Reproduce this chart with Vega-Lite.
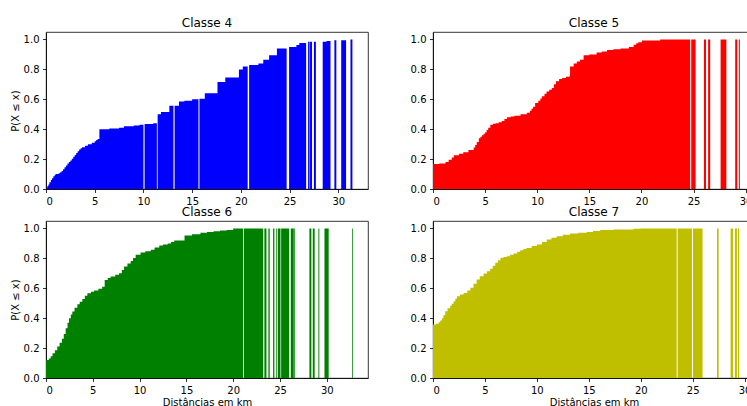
{
"$schema": "https://vega.github.io/schema/vega-lite/v6.json",
"background": "white",
"padding": {"left": 9, "top": 16, "right": 0, "bottom": 2},
"config": {
  "font": "DejaVu Sans",
  "view": {"stroke": "black", "strokeWidth": 0.8},
  "axis": {"grid": false, "domainColor": "black", "tickColor": "black", "labelColor": "black", "titleColor": "black", "labelFont": "DejaVu Sans", "titleFont": "DejaVu Sans", "labelFontSize": 10, "titleFontSize": 10, "titleFontWeight": "normal", "tickSize": 3.5, "labelPadding": 3.5, "domainWidth": 0.8, "tickWidth": 0.8, "titlePadding": 3},
  "axisX": {"titlePadding": 2},
  "title": {"fontSize": 12, "fontWeight": "normal", "font": "DejaVu Sans", "color": "black", "offset": 2}
},
"datasets": {
"d": [
{"classe":4,"seg":1,"km":0.05,"p":0.01},{"classe":4,"seg":1,"km":0.15,"p":0.02},{"classe":4,"seg":1,"km":0.25,"p":0.03},{"classe":4,"seg":1,"km":0.35,"p":0.045},{"classe":4,"seg":1,"km":0.5,"p":0.06},{"classe":4,"seg":1,"km":0.62,"p":0.072},{"classe":4,"seg":1,"km":0.75,"p":0.085},{"classe":4,"seg":1,"km":0.9,"p":0.095},{"classe":4,"seg":1,"km":1.0,"p":0.1},{"classe":4,"seg":1,"km":1.3,"p":0.105},{"classe":4,"seg":1,"km":1.45,"p":0.112},{"classe":4,"seg":1,"km":1.6,"p":0.12},{"classe":4,"seg":1,"km":1.75,"p":0.132},{"classe":4,"seg":1,"km":1.9,"p":0.145},{"classe":4,"seg":1,"km":2.05,"p":0.158},{"classe":4,"seg":1,"km":2.2,"p":0.17},{"classe":4,"seg":1,"km":2.35,"p":0.18},{"classe":4,"seg":1,"km":2.5,"p":0.19},{"classe":4,"seg":1,"km":2.65,"p":0.203},{"classe":4,"seg":1,"km":2.8,"p":0.215},{"classe":4,"seg":1,"km":2.95,"p":0.228},{"classe":4,"seg":1,"km":3.1,"p":0.24},{"classe":4,"seg":1,"km":3.25,"p":0.253},{"classe":4,"seg":1,"km":3.4,"p":0.265},{"classe":4,"seg":1,"km":3.55,"p":0.273},{"classe":4,"seg":1,"km":3.7,"p":0.28},{"classe":4,"seg":1,"km":4.0,"p":0.29},{"classe":4,"seg":1,"km":4.3,"p":0.3},{"classe":4,"seg":1,"km":4.7,"p":0.31},{"classe":4,"seg":1,"km":5.0,"p":0.32},{"classe":4,"seg":1,"km":5.15,"p":0.327},{"classe":4,"seg":1,"km":5.3,"p":0.335},{"classe":4,"seg":1,"km":5.48,"p":0.4},{"classe":4,"seg":1,"km":6.5,"p":0.405},{"classe":4,"seg":1,"km":7.5,"p":0.41},{"classe":4,"seg":1,"km":8.0,"p":0.42},{"classe":4,"seg":1,"km":9.0,"p":0.425},{"classe":4,"seg":1,"km":9.6,"p":0.43},{"classe":4,"seg":1,"km":10.0,"p":0.43},
{"classe":4,"seg":2,"km":10.12,"p":0.435},{"classe":4,"seg":2,"km":11.0,"p":0.44},{"classe":4,"seg":2,"km":11.38,"p":0.44},
{"classe":4,"seg":3,"km":11.46,"p":0.5},{"classe":4,"seg":3,"km":11.8,"p":0.515},{"classe":4,"seg":3,"km":12.66,"p":0.557},{"classe":4,"seg":3,"km":13.08,"p":0.557},
{"classe":4,"seg":4,"km":13.2,"p":0.557},{"classe":4,"seg":4,"km":13.65,"p":0.585},{"classe":4,"seg":4,"km":14.2,"p":0.59},{"classe":4,"seg":4,"km":15.0,"p":0.6},{"classe":4,"seg":4,"km":15.65,"p":0.604},
{"classe":4,"seg":5,"km":15.75,"p":0.604},{"classe":4,"seg":5,"km":16.3,"p":0.64},{"classe":4,"seg":5,"km":17.6,"p":0.715},{"classe":4,"seg":5,"km":18.4,"p":0.746},{"classe":4,"seg":5,"km":19.8,"p":0.8},{"classe":4,"seg":5,"km":20.2,"p":0.82},{"classe":4,"seg":5,"km":20.7,"p":0.82},
{"classe":4,"seg":6,"km":20.85,"p":0.83},{"classe":4,"seg":6,"km":21.8,"p":0.84},{"classe":4,"seg":6,"km":22.3,"p":0.865},{"classe":4,"seg":6,"km":22.9,"p":0.895},{"classe":4,"seg":6,"km":23.7,"p":0.94},{"classe":4,"seg":6,"km":24.7,"p":0.945},
{"classe":4,"seg":7,"km":24.95,"p":0.95},{"classe":4,"seg":7,"km":25.7,"p":0.963},{"classe":4,"seg":7,"km":26.0,"p":0.976},{"classe":4,"seg":7,"km":26.7,"p":0.976},
{"classe":4,"seg":8,"km":26.9,"p":0.985},{"classe":4,"seg":8,"km":27.05,"p":0.985},
{"classe":4,"seg":9,"km":27.1,"p":0.985},{"classe":4,"seg":9,"km":27.3,"p":0.985},
{"classe":4,"seg":10,"km":27.5,"p":0.985},{"classe":4,"seg":10,"km":27.7,"p":0.985},
{"classe":4,"seg":11,"km":28.4,"p":0.985},{"classe":4,"seg":11,"km":28.8,"p":0.99},{"classe":4,"seg":11,"km":29.2,"p":0.99},
{"classe":4,"seg":12,"km":29.6,"p":0.995},{"classe":4,"seg":12,"km":29.8,"p":0.995},
{"classe":4,"seg":13,"km":30.3,"p":0.995},{"classe":4,"seg":13,"km":30.8,"p":0.995},
{"classe":4,"seg":14,"km":31.25,"p":1.0},{"classe":4,"seg":14,"km":31.45,"p":1.0},
{"classe":5,"seg":1,"km":0,"p":0.167},{"classe":5,"seg":1,"km":0.6,"p":0.17},{"classe":5,"seg":1,"km":1.2,"p":0.18},{"classe":5,"seg":1,"km":1.5,"p":0.195},{"classe":5,"seg":1,"km":1.8,"p":0.21},{"classe":5,"seg":1,"km":2.0,"p":0.225},{"classe":5,"seg":1,"km":2.5,"p":0.235},{"classe":5,"seg":1,"km":2.9,"p":0.245},{"classe":5,"seg":1,"km":3.4,"p":0.26},{"classe":5,"seg":1,"km":3.9,"p":0.278},{"classe":5,"seg":1,"km":4.05,"p":0.295},{"classe":5,"seg":1,"km":4.2,"p":0.315},{"classe":5,"seg":1,"km":4.4,"p":0.34},{"classe":5,"seg":1,"km":4.55,"p":0.35},{"classe":5,"seg":1,"km":4.7,"p":0.36},{"classe":5,"seg":1,"km":4.85,"p":0.37},{"classe":5,"seg":1,"km":5.0,"p":0.38},{"classe":5,"seg":1,"km":5.15,"p":0.395},{"classe":5,"seg":1,"km":5.3,"p":0.41},{"classe":5,"seg":1,"km":5.5,"p":0.43},{"classe":5,"seg":1,"km":5.75,"p":0.437},{"classe":5,"seg":1,"km":6.0,"p":0.44},{"classe":5,"seg":1,"km":6.3,"p":0.447},{"classe":5,"seg":1,"km":6.6,"p":0.455},{"classe":5,"seg":1,"km":6.85,"p":0.468},{"classe":5,"seg":1,"km":7.1,"p":0.48},{"classe":5,"seg":1,"km":7.45,"p":0.485},{"classe":5,"seg":1,"km":7.8,"p":0.49},{"classe":5,"seg":1,"km":8.4,"p":0.5},{"classe":5,"seg":1,"km":9.0,"p":0.51},{"classe":5,"seg":1,"km":9.3,"p":0.523},{"classe":5,"seg":1,"km":9.45,"p":0.537},{"classe":5,"seg":1,"km":9.6,"p":0.55},{"classe":5,"seg":1,"km":9.8,"p":0.575},{"classe":5,"seg":1,"km":10.1,"p":0.59},{"classe":5,"seg":1,"km":10.3,"p":0.605},{"classe":5,"seg":1,"km":10.45,"p":0.62},{"classe":5,"seg":1,"km":10.7,"p":0.637},{"classe":5,"seg":1,"km":10.9,"p":0.652},{"classe":5,"seg":1,"km":11.15,"p":0.664},{"classe":5,"seg":1,"km":11.4,"p":0.675},{"classe":5,"seg":1,"km":11.6,"p":0.7},{"classe":5,"seg":1,"km":11.8,"p":0.72},{"classe":5,"seg":1,"km":12.1,"p":0.735},{"classe":5,"seg":1,"km":12.4,"p":0.742},{"classe":5,"seg":1,"km":12.75,"p":0.75},{"classe":5,"seg":1,"km":13.1,"p":0.757},{"classe":5,"seg":1,"km":13.15,"p":0.82},{"classe":5,"seg":1,"km":13.5,"p":0.84},{"classe":5,"seg":1,"km":13.8,"p":0.853},{"classe":5,"seg":1,"km":14.1,"p":0.864},{"classe":5,"seg":1,"km":14.45,"p":0.895},{"classe":5,"seg":1,"km":15.0,"p":0.9},{"classe":5,"seg":1,"km":15.7,"p":0.913},{"classe":5,"seg":1,"km":16.2,"p":0.92},{"classe":5,"seg":1,"km":16.7,"p":0.93},{"classe":5,"seg":1,"km":17.3,"p":0.935},{"classe":5,"seg":1,"km":18.0,"p":0.94},{"classe":5,"seg":1,"km":18.8,"p":0.95},{"classe":5,"seg":1,"km":19.25,"p":0.965},{"classe":5,"seg":1,"km":19.5,"p":0.975},{"classe":5,"seg":1,"km":19.7,"p":0.982},{"classe":5,"seg":1,"km":20.05,"p":0.993},{"classe":5,"seg":1,"km":21.8,"p":1.0},{"classe":5,"seg":1,"km":24.68,"p":1.0},
{"classe":5,"seg":2,"km":24.78,"p":1.0},{"classe":5,"seg":2,"km":25.2,"p":1.0},
{"classe":5,"seg":3,"km":26.0,"p":1.0},{"classe":5,"seg":3,"km":26.2,"p":1.0},
{"classe":5,"seg":4,"km":26.4,"p":1.0},{"classe":5,"seg":4,"km":26.6,"p":1.0},
{"classe":5,"seg":5,"km":27.6,"p":1.0},{"classe":5,"seg":5,"km":28.15,"p":1.0},
{"classe":5,"seg":6,"km":29.0,"p":1.0},{"classe":5,"seg":6,"km":29.2,"p":1.0},
{"classe":5,"seg":7,"km":29.35,"p":1.0},{"classe":5,"seg":7,"km":29.45,"p":1.0},
{"classe":6,"seg":1,"km":0,"p":0.12},{"classe":6,"seg":1,"km":0.3,"p":0.13},{"classe":6,"seg":1,"km":0.5,"p":0.145},{"classe":6,"seg":1,"km":0.7,"p":0.165},{"classe":6,"seg":1,"km":0.95,"p":0.185},{"classe":6,"seg":1,"km":1.2,"p":0.21},{"classe":6,"seg":1,"km":1.45,"p":0.235},{"classe":6,"seg":1,"km":1.7,"p":0.262},{"classe":6,"seg":1,"km":1.9,"p":0.295},{"classe":6,"seg":1,"km":2.1,"p":0.332},{"classe":6,"seg":1,"km":2.3,"p":0.37},{"classe":6,"seg":1,"km":2.46,"p":0.4},{"classe":6,"seg":1,"km":2.65,"p":0.425},{"classe":6,"seg":1,"km":2.81,"p":0.444},{"classe":6,"seg":1,"km":3.05,"p":0.47},{"classe":6,"seg":1,"km":3.35,"p":0.493},{"classe":6,"seg":1,"km":3.6,"p":0.51},{"classe":6,"seg":1,"km":3.88,"p":0.529},{"classe":6,"seg":1,"km":4.15,"p":0.55},{"classe":6,"seg":1,"km":4.42,"p":0.567},{"classe":6,"seg":1,"km":4.8,"p":0.577},{"classe":6,"seg":1,"km":5.13,"p":0.585},{"classe":6,"seg":1,"km":5.6,"p":0.597},{"classe":6,"seg":1,"km":6.0,"p":0.611},{"classe":6,"seg":1,"km":6.27,"p":0.656},{"classe":6,"seg":1,"km":6.6,"p":0.668},{"classe":6,"seg":1,"km":6.9,"p":0.678},{"classe":6,"seg":1,"km":7.4,"p":0.69},{"classe":6,"seg":1,"km":7.8,"p":0.7},{"classe":6,"seg":1,"km":8.1,"p":0.722},{"classe":6,"seg":1,"km":8.34,"p":0.745},{"classe":6,"seg":1,"km":8.7,"p":0.765},{"classe":6,"seg":1,"km":9.05,"p":0.783},{"classe":6,"seg":1,"km":9.3,"p":0.803},{"classe":6,"seg":1,"km":9.58,"p":0.824},{"classe":6,"seg":1,"km":10.1,"p":0.839},{"classe":6,"seg":1,"km":10.6,"p":0.848},{"classe":6,"seg":1,"km":11.2,"p":0.857},{"classe":6,"seg":1,"km":11.6,"p":0.872},{"classe":6,"seg":1,"km":12.1,"p":0.886},{"classe":6,"seg":1,"km":12.5,"p":0.893},{"classe":6,"seg":1,"km":13.0,"p":0.9},{"classe":6,"seg":1,"km":13.35,"p":0.91},{"classe":6,"seg":1,"km":13.7,"p":0.919},{"classe":6,"seg":1,"km":14.8,"p":0.953},{"classe":6,"seg":1,"km":15.6,"p":0.962},{"classe":6,"seg":1,"km":16.5,"p":0.971},{"classe":6,"seg":1,"km":17.2,"p":0.977},{"classe":6,"seg":1,"km":17.9,"p":0.982},{"classe":6,"seg":1,"km":18.6,"p":0.986},{"classe":6,"seg":1,"km":19.3,"p":0.989},{"classe":6,"seg":1,"km":20.0,"p":1.0},{"classe":6,"seg":1,"km":21.05,"p":1.0},
{"classe":6,"seg":2,"km":21.15,"p":1.0},{"classe":6,"seg":2,"km":23.2,"p":1.0},
{"classe":6,"seg":3,"km":23.33,"p":1.0},{"classe":6,"seg":3,"km":23.55,"p":1.0},
{"classe":6,"seg":4,"km":23.76,"p":1.0},{"classe":6,"seg":4,"km":23.9,"p":1.0},
{"classe":6,"seg":5,"km":24.26,"p":1.0},{"classe":6,"seg":5,"km":24.4,"p":1.0},
{"classe":6,"seg":6,"km":24.6,"p":1.0},{"classe":6,"seg":6,"km":24.68,"p":1.0},
{"classe":6,"seg":7,"km":24.76,"p":1.0},{"classe":6,"seg":7,"km":25.05,"p":1.0},
{"classe":6,"seg":8,"km":25.12,"p":1.0},{"classe":6,"seg":8,"km":25.97,"p":1.0},
{"classe":6,"seg":9,"km":26.15,"p":1.0},{"classe":6,"seg":9,"km":26.47,"p":1.0},
{"classe":6,"seg":10,"km":26.52,"p":1.0},{"classe":6,"seg":10,"km":26.6,"p":1.0},
{"classe":6,"seg":11,"km":28.14,"p":1.0},{"classe":6,"seg":11,"km":28.35,"p":1.0},
{"classe":6,"seg":12,"km":28.5,"p":1.0},{"classe":6,"seg":12,"km":28.7,"p":1.0},
{"classe":6,"seg":13,"km":29.1,"p":1.0},{"classe":6,"seg":13,"km":29.2,"p":1.0},
{"classe":6,"seg":14,"km":29.75,"p":1.0},{"classe":6,"seg":14,"km":30.2,"p":1.0},
{"classe":6,"seg":15,"km":32.7,"p":1.0},{"classe":6,"seg":15,"km":32.78,"p":1.0},
{"classe":7,"seg":1,"km":0,"p":0.357},{"classe":7,"seg":1,"km":0.3,"p":0.362},{"classe":7,"seg":1,"km":0.54,"p":0.373},{"classe":7,"seg":1,"km":0.7,"p":0.385},{"classe":7,"seg":1,"km":0.86,"p":0.4},{"classe":7,"seg":1,"km":1.0,"p":0.42},{"classe":7,"seg":1,"km":1.18,"p":0.446},{"classe":7,"seg":1,"km":1.4,"p":0.466},{"classe":7,"seg":1,"km":1.66,"p":0.484},{"classe":7,"seg":1,"km":1.8,"p":0.497},{"classe":7,"seg":1,"km":1.98,"p":0.513},{"classe":7,"seg":1,"km":2.15,"p":0.53},{"classe":7,"seg":1,"km":2.3,"p":0.547},{"classe":7,"seg":1,"km":2.6,"p":0.558},{"classe":7,"seg":1,"km":2.95,"p":0.569},{"classe":7,"seg":1,"km":3.3,"p":0.585},{"classe":7,"seg":1,"km":3.6,"p":0.603},{"classe":7,"seg":1,"km":3.9,"p":0.63},{"classe":7,"seg":1,"km":4.2,"p":0.658},{"classe":7,"seg":1,"km":4.5,"p":0.68},{"classe":7,"seg":1,"km":4.87,"p":0.699},{"classe":7,"seg":1,"km":5.2,"p":0.714},{"classe":7,"seg":1,"km":5.5,"p":0.73},{"classe":7,"seg":1,"km":5.75,"p":0.75},{"classe":7,"seg":1,"km":6.0,"p":0.77},{"classe":7,"seg":1,"km":6.25,"p":0.787},{"classe":7,"seg":1,"km":6.5,"p":0.804},{"classe":7,"seg":1,"km":6.8,"p":0.81},{"classe":7,"seg":1,"km":7.1,"p":0.815},{"classe":7,"seg":1,"km":7.4,"p":0.824},{"classe":7,"seg":1,"km":7.75,"p":0.833},{"classe":7,"seg":1,"km":8.1,"p":0.845},{"classe":7,"seg":1,"km":8.4,"p":0.855},{"classe":7,"seg":1,"km":8.7,"p":0.863},{"classe":7,"seg":1,"km":9.0,"p":0.87},{"classe":7,"seg":1,"km":9.5,"p":0.882},{"classe":7,"seg":1,"km":10.0,"p":0.893},{"classe":7,"seg":1,"km":10.5,"p":0.91},{"classe":7,"seg":1,"km":10.96,"p":0.926},{"classe":7,"seg":1,"km":11.4,"p":0.938},{"classe":7,"seg":1,"km":11.9,"p":0.948},{"classe":7,"seg":1,"km":12.5,"p":0.958},{"classe":7,"seg":1,"km":13.2,"p":0.966},{"classe":7,"seg":1,"km":14.0,"p":0.972},{"classe":7,"seg":1,"km":14.8,"p":0.977},{"classe":7,"seg":1,"km":15.4,"p":0.983},{"classe":7,"seg":1,"km":16.1,"p":0.989},{"classe":7,"seg":1,"km":17.4,"p":0.993},{"classe":7,"seg":1,"km":19.3,"p":0.998},{"classe":7,"seg":1,"km":20.0,"p":1.0},{"classe":7,"seg":1,"km":23.46,"p":1.0},
{"classe":7,"seg":2,"km":23.55,"p":1.0},{"classe":7,"seg":2,"km":24.93,"p":1.0},
{"classe":7,"seg":3,"km":25.03,"p":1.0},{"classe":7,"seg":3,"km":25.95,"p":1.0},
{"classe":7,"seg":4,"km":27.34,"p":1.0},{"classe":7,"seg":4,"km":27.5,"p":1.0},
{"classe":7,"seg":5,"km":28.65,"p":1.0},{"classe":7,"seg":5,"km":28.9,"p":1.0},
{"classe":7,"seg":6,"km":29.07,"p":1.0},{"classe":7,"seg":6,"km":29.26,"p":1.0},
{"classe":7,"seg":7,"km":29.36,"p":1.0},{"classe":7,"seg":7,"km":29.48,"p":1.0}
]
},
"columns": 2,
"spacing": {"row": 32, "column": 65},
"bounds": "flush",
"concat": [
{
  "title": "Classe 4", "width": 322, "height": 157,
  "data": {"name": "d"},
  "transform": [{"filter": "datum.classe == 4"}],
  "mark": {"type": "area", "color": "#0000ff", "interpolate": "step-after"},
  "encoding": {
    "x": {"field": "km", "type": "quantitative", "scale": {"domain": [0, 33.05], "nice": false, "zero": false}, "axis": {"title": null, "values": [0,5,10,15,20,25,30], "format": "d"}},
    "y": {"field": "p", "type": "quantitative", "stack": null, "scale": {"domain": [0, 1.05], "nice": false}, "axis": {"title": "P(X ≤ x)", "values": [0,0.2,0.4,0.6,0.8,1.0], "format": ".1f"}},
    "detail": {"field": "seg", "type": "nominal"}
  }
},
{
  "title": "Classe 5", "width": 322, "height": 157,
  "data": {"name": "d"},
  "transform": [{"filter": "datum.classe == 5"}],
  "mark": {"type": "area", "color": "#ff0000", "interpolate": "step-after"},
  "encoding": {
    "x": {"field": "km", "type": "quantitative", "scale": {"domain": [0, 30.9], "nice": false, "zero": false}, "axis": {"title": null, "values": [0,5,10,15,20,25,30], "format": "d"}},
    "y": {"field": "p", "type": "quantitative", "stack": null, "scale": {"domain": [0, 1.05], "nice": false}, "axis": {"title": null, "values": [0,0.2,0.4,0.6,0.8,1.0], "format": ".1f"}},
    "detail": {"field": "seg", "type": "nominal"}
  }
},
{
  "title": "Classe 6", "width": 322, "height": 157,
  "data": {"name": "d"},
  "transform": [{"filter": "datum.classe == 6"}],
  "mark": {"type": "area", "color": "#008000", "interpolate": "step-after"},
  "encoding": {
    "x": {"field": "km", "type": "quantitative", "scale": {"domain": [0, 34.4], "nice": false, "zero": false}, "axis": {"title": "Distâncias em km", "values": [0,5,10,15,20,25,30], "format": "d"}},
    "y": {"field": "p", "type": "quantitative", "stack": null, "scale": {"domain": [0, 1.05], "nice": false}, "axis": {"title": "P(X ≤ x)", "values": [0,0.2,0.4,0.6,0.8,1.0], "format": ".1f"}},
    "detail": {"field": "seg", "type": "nominal"}
  }
},
{
  "title": "Classe 7", "width": 322, "height": 157,
  "data": {"name": "d"},
  "transform": [{"filter": "datum.classe == 7"}],
  "mark": {"type": "area", "color": "#bfbf00", "interpolate": "step-after"},
  "encoding": {
    "x": {"field": "km", "type": "quantitative", "scale": {"domain": [0, 31.0], "nice": false, "zero": false}, "axis": {"title": "Distâncias em km", "values": [0,5,10,15,20,25,30], "format": "d"}},
    "y": {"field": "p", "type": "quantitative", "stack": null, "scale": {"domain": [0, 1.05], "nice": false}, "axis": {"title": null, "values": [0,0.2,0.4,0.6,0.8,1.0], "format": ".1f"}},
    "detail": {"field": "seg", "type": "nominal"}
  }
}
]
}
